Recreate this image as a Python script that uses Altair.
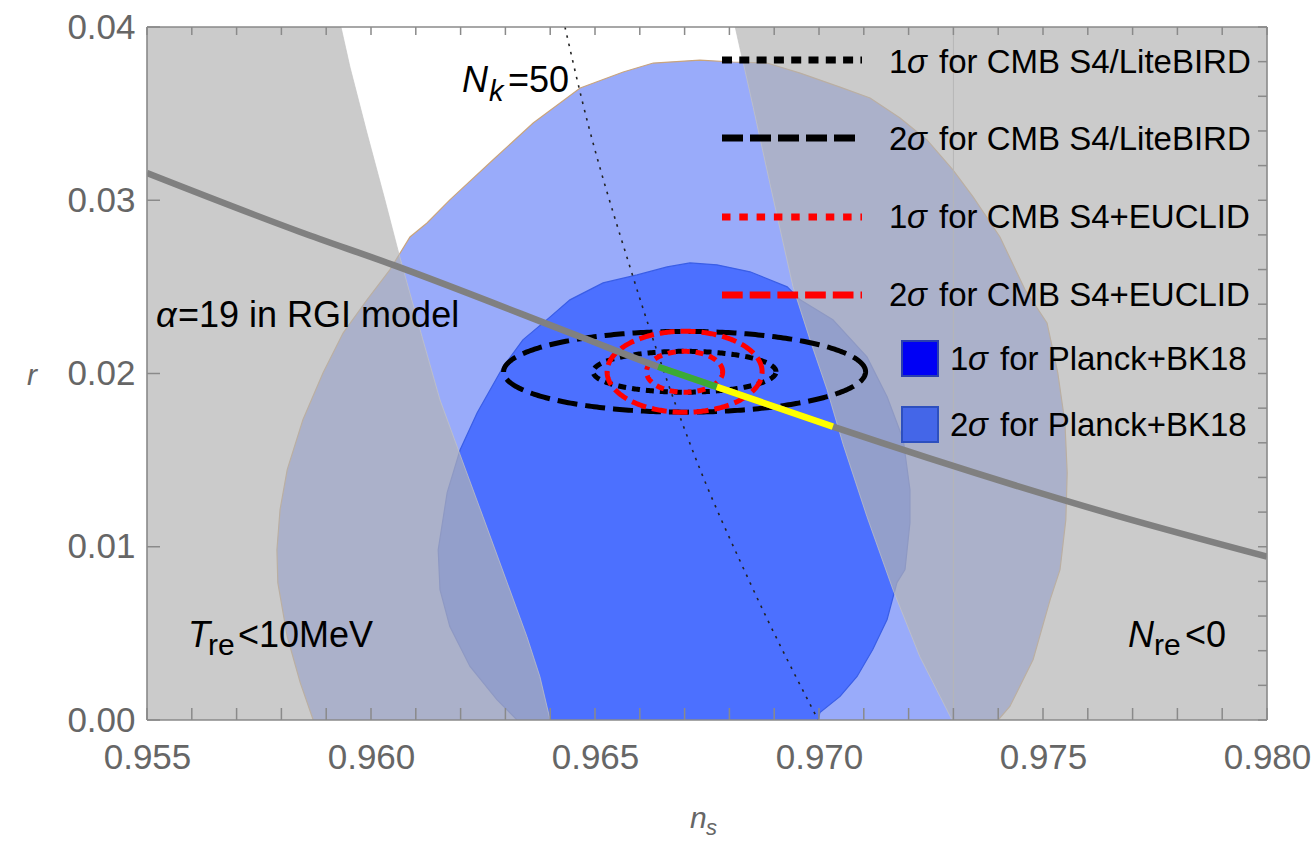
import altair as alt
import pandas as pd
import numpy as np

# ---------------- data ----------------
# Planck+BK18 2-sigma contour (closed outline)
p2_ns = [0.95871, 0.95842, 0.95813, 0.95792, 0.95790, 0.95797, 0.95813, 0.95848, 0.95893, 0.95938,
         0.95991, 0.96042, 0.96087, 0.96125, 0.96176, 0.96272, 0.96362, 0.96467, 0.96563, 0.96630,
         0.96734, 0.96808, 0.96884, 0.96958, 0.97047, 0.97114, 0.97181, 0.97241, 0.97299, 0.97344,
         0.97404, 0.97460, 0.97509, 0.97533, 0.97549, 0.97554, 0.97551, 0.97538, 0.97516, 0.97478,
         0.97426, 0.97400]
p2_r = [0.0, 0.00216, 0.00482, 0.00793, 0.00983, 0.01214, 0.01445, 0.01733, 0.02004, 0.02235,
        0.02425, 0.02598, 0.02788, 0.02869, 0.03002, 0.03232, 0.03446, 0.03648, 0.03740, 0.03792,
        0.03809, 0.03798, 0.03792, 0.03734, 0.03653, 0.03590, 0.03475, 0.03348, 0.03175, 0.03019,
        0.02788, 0.02483, 0.02292, 0.02004, 0.01716, 0.01427, 0.01156, 0.00868, 0.00695, 0.00349,
        0.00078, 0.0]

# Planck+BK18 1-sigma contour
p1_ns = [0.96326, 0.96281, 0.96221, 0.96176, 0.96154, 0.96150, 0.96170, 0.96199, 0.96237, 0.96266,
         0.96295, 0.96339, 0.96400, 0.96444, 0.96518, 0.96594, 0.96661, 0.96712, 0.96772, 0.96846,
         0.96929, 0.96958, 0.97031, 0.97107, 0.97152, 0.97188, 0.97203, 0.97203, 0.97192, 0.97174,
         0.97152, 0.97120, 0.97085, 0.97047, 0.97002, 0.96998]
p1_r = [0.0, 0.00118, 0.00309, 0.00539, 0.00753, 0.00983, 0.01312, 0.01560, 0.01773, 0.01906,
        0.02039, 0.02194, 0.02327, 0.02425, 0.02523, 0.02569, 0.02615, 0.02638, 0.02627, 0.02587,
        0.02500, 0.02425, 0.02310, 0.02096, 0.01866, 0.01618, 0.01329, 0.01139, 0.00868, 0.00793,
        0.00580, 0.00407, 0.00251, 0.00136, 0.00043, 0.0]

# excluded region T_re < 10 MeV (left)
tre_ns = [0.955, 0.955, 0.95933, 0.95953, 0.95991, 0.96031, 0.96060, 0.96116, 0.96154, 0.96199,
          0.96250, 0.96304, 0.96348, 0.96377, 0.96400]
tre_r = [0.0, 0.04, 0.04, 0.03769, 0.03388, 0.03002, 0.02713, 0.02194, 0.01848, 0.01531,
         0.01174, 0.00793, 0.00482, 0.00251, 0.0]

# excluded region N_re < 0 (right)
nre_ns = [0.980, 0.96813, 0.96853, 0.96897, 0.96942, 0.96980, 0.97018, 0.97054, 0.97107, 0.97165,
          0.97225, 0.97297, 0.980]
nre_r = [0.04, 0.04, 0.03538, 0.03019, 0.02500, 0.02194, 0.01906, 0.01589, 0.01174, 0.00753,
         0.00366, 0.0, 0.0]

# alpha = 19 RGI model prediction
model_ns = [0.955, 0.95842, 0.96049, 0.96473, 0.96641, 0.96772, 0.97031, 0.97672, 0.980]
model_r = [0.03157, 0.02817, 0.02627, 0.02206, 0.02039, 0.01923, 0.01693, 0.01174, 0.00943]
green_ns = [0.96641, 0.96772]
green_r = [0.02039, 0.01923]
yellow_ns = [0.96772, 0.97031]
yellow_r = [0.01923, 0.01693]

# N_k = 50 curve
nk_ns = [0.96433, 0.96471, 0.96578, 0.96719, 0.96846, 0.96998]
nk_r = [0.04, 0.03578, 0.02615, 0.01548, 0.00793, 0.0]

# forecast ellipses: centre and semi-axes (ns, r)
ell_center = (0.9670, 0.0201)
ell_names = ["S4 1sigma", "S4 2sigma", "EUCLID 1sigma", "EUCLID 2sigma"]
ell_a = [0.00204, 0.00404, 0.00085, 0.00173]
ell_b = [0.00118, 0.00233, 0.00118, 0.00234]

faint_ns = [0.973]

x_labels = [0.955, 0.960, 0.965, 0.970, 0.975, 0.980]
y_labels = [0.0, 0.01, 0.02, 0.03, 0.04]
x_minor = [0.955, 0.956, 0.957, 0.958, 0.959, 0.960, 0.961, 0.962, 0.963, 0.964, 0.965, 0.966,
           0.967, 0.968, 0.969, 0.970, 0.971, 0.972, 0.973, 0.974, 0.975, 0.976, 0.977, 0.978,
           0.979, 0.980]
y_minor = [0.0, 0.002, 0.004, 0.006, 0.008, 0.01, 0.012, 0.014, 0.016, 0.018, 0.02, 0.022, 0.024,
           0.026, 0.028, 0.03, 0.032, 0.034, 0.036, 0.038, 0.04]

# ---------------- chart ----------------
W, H = 1120, 693
FONT = "Liberation Sans"
LABEL = "#666666"
FRAME = "#8a8a8a"

xs = alt.Scale(domain=[0.955, 0.980], nice=False, zero=False)
ys = alt.Scale(domain=[0.0, 0.04], nice=False, zero=False)


def X():
    return alt.X("ns:Q", scale=xs,
                 axis=alt.Axis(values=x_labels, format=".3f", title=None, ticks=False, domain=False,
                               grid=False, labelFontSize=35, labelColor=LABEL, labelFont=FONT,
                               labelPadding=20, labelOverlap=False, labelFlush=False, labelBound=False))


def Y():
    return alt.Y("r:Q", scale=ys,
                 axis=alt.Axis(values=y_labels, format=".2f", title=None, ticks=False, domain=False,
                               grid=False, labelFontSize=35, labelColor=LABEL, labelFont=FONT,
                               labelPadding=12, labelOverlap=False, labelFlush=False, labelBound=False))


def poly_df(ns, r):
    return pd.DataFrame({"ns": ns, "r": r, "i": list(range(len(ns)))})


def polygon(ns, r, fill, stroke, sw=1.0, fill_opacity=1.0, stroke_opacity=1.0):
    return alt.Chart(poly_df(ns, r)).mark_line(
        fill=fill, fillOpacity=fill_opacity, stroke=stroke, strokeWidth=sw,
        strokeOpacity=stroke_opacity, clip=True
    ).encode(x=X(), y=Y(), order="i:Q")


def curve(ns, r, color, width, dash=None, interp="linear", cap="butt"):
    kw = dict(color=color, strokeWidth=width, clip=True, interpolate=interp, strokeCap=cap)
    if dash:
        kw["strokeDash"] = dash
    return alt.Chart(poly_df(ns, r)).mark_line(**kw).encode(x=X(), y=Y(), order="i:Q")


layers = []
layers.append(polygon(p2_ns, p2_r, "#99ABFA", "#C9A47C", 1.2))
layers.append(polygon(p1_ns, p1_r, "#4C70FF", "#3A5EE6", 1.2))

layers.append(alt.Chart(pd.DataFrame({"ns": faint_ns})).mark_rule(color="#b9b9b9", strokeWidth=1)
              .encode(x=X()))

layers.append(polygon(tre_ns, tre_r, "#B3B3B3", "#c4c4c4", 1.0, fill_opacity=0.69, stroke_opacity=0.7))
layers.append(polygon(nre_ns, nre_r, "#B3B3B3", "#c4c4c4", 1.0, fill_opacity=0.69, stroke_opacity=0.7))

layers.append(curve(nk_ns, nk_r, "#222222", 1.6, dash=[2.5, 6], interp="monotone"))

# ellipses
th = np.linspace(0, 2 * np.pi, 361)
ell_style = {
    "S4 1sigma": ("black", [8, 6]),
    "S4 2sigma": ("black", [20, 8]),
    "EUCLID 1sigma": ("#ff0000", [8, 6]),
    "EUCLID 2sigma": ("#ff0000", [15, 6]),
}
for name, a, b in zip(ell_names, ell_a, ell_b):
    ens = list(ell_center[0] + a * np.cos(th))
    er = list(ell_center[1] + b * np.sin(th))
    col, dash = ell_style[name]
    layers.append(curve(ens, er, col, 5, dash=dash))

layers.append(curve(model_ns, model_r, "#808080", 6.5, interp="monotone"))
layers.append(curve(green_ns, green_r, "#3BAA35", 6.5))
layers.append(curve(yellow_ns, yellow_r, "#FFFF00", 6.5))


# frame ticks (inward)
def ticks_x(vals, y0, y1):
    return alt.Chart(pd.DataFrame({"ns": vals})).mark_rule(color=FRAME, strokeWidth=1.5).encode(
        x=X(), y=alt.value(y0), y2=alt.value(y1))


def ticks_y(vals, x0, x1):
    return alt.Chart(pd.DataFrame({"r": vals})).mark_rule(color=FRAME, strokeWidth=1.5).encode(
        y=Y(), x=alt.value(x0), x2=alt.value(x1))


layers.append(ticks_x(x_minor, H - 12, H))
layers.append(ticks_x(x_minor, 0, 8))
layers.append(ticks_y(y_minor, W - 9, W))
layers.append(ticks_y(y_labels, 0, 13))

one = pd.DataFrame({"k": [0]})


def frame_rule(**enc):
    return alt.Chart(one).mark_rule(color=FRAME, strokeWidth=1.6).encode(**enc)


layers.append(frame_rule(x=alt.value(0), y=alt.value(0), y2=alt.value(H)))
layers.append(frame_rule(x=alt.value(W), y=alt.value(0), y2=alt.value(H)))
layers.append(frame_rule(x=alt.value(0), x2=alt.value(W), y=alt.value(0)))
layers.append(frame_rule(x=alt.value(0), x2=alt.value(W), y=alt.value(H)))


def txt(s, x, y, size, italic=False, color="black"):
    kw = dict(text=s, fontSize=size, font=FONT, color=color, align="left", baseline="alphabetic")
    if italic:
        kw["fontStyle"] = "italic"
    return alt.Chart(one).mark_text(**kw).encode(x=alt.value(x), y=alt.value(y))


# legend
leg_x0, leg_x1 = 575, 715
leg_items = [
    (33, "black", [10, 7.3], "1", "for CMB S4/LiteBIRD", 46),
    (111, "black", [21, 7], "2", "for CMB S4/LiteBIRD", 123),
    (190, "#ff0000", [8.5, 8.8], "1", "for CMB S4+EUCLID", 201),
    (268, "#ff0000", [20.7, 7], "2", "for CMB S4+EUCLID", 279),
]
for ly, col, dash, num, rest, base in leg_items:
    layers.append(alt.Chart(one).mark_rule(color=col, strokeWidth=7, strokeDash=dash).encode(
        x=alt.value(leg_x0), x2=alt.value(leg_x1), y=alt.value(ly)))
    layers.append(txt(num, 742, base, 33))
    layers.append(txt("σ", 760, base, 33, italic=True))
    layers.append(txt(rest, 792, base, 33))

for (y0, y1, fill, stroke, num, base) in [
    (314, 349, "#0000F5", "#2a3fae", "1", 343),
    (380, 415, "#4466E8", "#2d4fbe", "2", 409),
]:
    layers.append(alt.Chart(one).mark_rect(fill=fill, stroke=stroke, strokeWidth=2).encode(
        x=alt.value(755), x2=alt.value(791), y=alt.value(y0), y2=alt.value(y1)))
    layers.append(txt(num, 803, base, 33))
    layers.append(txt("σ", 821, base, 33, italic=True))
    layers.append(txt("for Planck+BK18", 853, base, 33))

# annotations
layers.append(txt("N", 315, 65, 36, italic=True))
layers.append(txt("k", 342, 74, 29, italic=True))
layers.append(txt("=50", 361, 65, 36))

layers.append(txt("α", 9, 300, 36, italic=True))
layers.append(txt("=19 in RGI model", 31, 300, 36))

layers.append(txt("T", 41, 620, 36, italic=True))
layers.append(txt("re", 61, 628, 30))
layers.append(txt("<10MeV", 91, 620, 36))

layers.append(txt("N", 981, 620, 36, italic=True))
layers.append(txt("re", 1007, 628, 30))
layers.append(txt("<0", 1038, 620, 36))

# axis titles
layers.append(txt("r", -120, 358, 30, italic=True, color=LABEL))
layers.append(txt("n", 543, 801, 30, italic=True, color=LABEL))
layers.append(txt("s", 559, 808, 22, italic=True, color=LABEL))

chart = alt.layer(*layers).properties(
    width=W, height=H,
    autosize=alt.AutoSizeParams(type="none"),
    padding={"left": 147, "top": 27, "right": 46, "bottom": 123},
    background="white",
).configure_view(stroke=None)

chart.save("out.html", embed_options={"renderer": "svg", "actions": False})
